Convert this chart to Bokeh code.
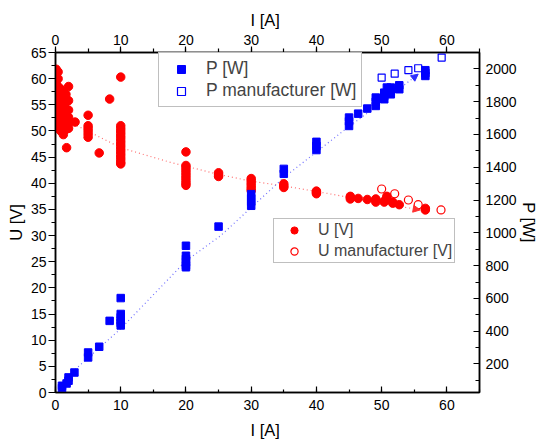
from bokeh.plotting import figure
from bokeh.models import (LinearAxis, Range1d, SingleIntervalTicker, Legend,
                          LegendItem, Arrow, NormalHead)
from bokeh.embed import file_html
from bokeh.resources import INLINE

# ---------------- data ----------------
# Measured voltage U [V] vs current I [A]
u_cur = [0.1, 0.1, 0.1, 0.1, 0.1, 0.1, 0.1, 0.1, 0.1, 0.1, 0.1, 0.1,
         0.4, 0.4, 0.4, 0.4, 0.4, 0.4, 0.4, 0.4, 0.4, 0.4, 0.4,
         0.8, 0.8, 0.8, 0.8, 0.8, 0.8, 0.8, 0.8, 0.8,
         1.2, 1.2, 1.2, 1.2, 1.2, 1.2, 1.2, 1.2, 1.2,
         1.6, 1.6, 1.6, 1.6, 1.6, 1.6, 1.6,
         2.0, 2.0, 2.0, 2.0, 2.0, 2.0,
         1.7, 3.0,
         5, 5, 5, 5, 5, 5, 6.7, 8.3,
         10, 10, 10, 10, 10, 10, 10, 10, 10, 10, 10, 10, 10, 10, 10, 10, 10,
         20, 20, 20, 20, 20, 20, 20, 20, 20, 20,
         25, 25, 25, 30, 30, 30, 30, 30, 30, 35, 35, 35, 40, 40, 40,
         45.2, 45.2, 45.2, 46.4, 47.8, 49.1, 49.1, 49.1, 50.4, 50.4,
         50.8, 50.8, 51.7, 51.7, 52.7, 56.7, 56.7]
u_volt = [61.8, 61, 60, 59, 58, 57, 56, 55, 54, 53, 52, 51,
          61.3, 60, 58.5, 57, 56, 55, 54, 53, 52, 51, 50.5,
          58, 57, 56, 55, 54, 53, 52, 51, 50,
          57.5, 56, 55, 54, 53, 52, 51, 50, 49.3,
          57, 55.5, 54, 53, 52, 51, 50.3,
          58.5, 55.8, 54, 52.6, 51.5, 50.5,
          46.8, 51.7,
          53, 51, 50.5, 50, 49.4, 48.8, 45.8, 56.1,
          60.3, 51, 50.5, 50, 49.5, 49, 48.5, 48, 47.5, 47, 46.5, 46, 45.5, 45, 44.5, 44, 43.7,
          46, 43.4, 43, 42.5, 42, 41.5, 41, 40.5, 40, 39.6,
          42, 41.6, 41.3, 40.9, 40.5, 40, 39.5, 39, 38.6, 39.9, 39.5, 39.2, 38.5, 38.3, 38.0,
          37.5, 37.3, 37.0, 37.1, 36.9, 37.0, 36.8, 36.4, 36.6, 36.4,
          37.5, 37.2, 36.4, 36.2, 35.9, 35.2, 34.9]

# Manufacturer voltage
um_cur = [50, 52, 54.1, 55.6, 59.1]
um_volt = [38.9, 38.0, 36.8, 35.9, 34.9]

# Measured power P [W]
p_cur = [1, 1, 1.7, 2, 2, 2.9, 5, 5, 6.7, 8.3,
         10, 10, 10, 10, 10, 10,
         20, 20, 20, 20, 20, 20,
         25, 30, 30, 30, 30, 35, 35, 40, 40, 40,
         45, 45, 45, 46.4, 47.8, 49.1, 49.1, 49.1, 50.4, 50.4, 50.4,
         50.8, 51.4, 51.4, 51.4, 52.7, 52.7, 56.7, 56.7, 56.7]
p_pow = [67, 53, 81, 118, 98, 148, 270, 240, 305, 463,
         602, 505, 485, 465, 450, 435,
         921, 860, 840, 820, 800, 790,
         1038, 1236, 1210, 1190, 1165, 1390, 1360, 1555, 1530, 1505,
         1703, 1680, 1652, 1727, 1758, 1825, 1800, 1774, 1855, 1835, 1815,
         1886, 1886, 1865, 1845, 1900, 1876, 1992, 1975, 1957]

# Manufacturer power
pm_cur = [50, 52, 54.1, 55.6, 59.2]
pm_pow = [1947, 1971, 1992, 2004, 2069]

# Fit curves
fitu_cur = [0.5, 3, 10, 17.6, 25, 30, 35, 40.6, 45, 50, 55.9]
fitu_volt = [52.6, 51.2, 46.8, 44.0, 41.7, 40.4, 39.5, 38.3, 37.3, 36.2, 34.9]
fitp_cur = [0.8, 2.8, 10, 20, 25.3, 30, 35, 40.6, 45, 50, 55.6]
fitp_pow = [50, 159, 415, 829, 982, 1154, 1337, 1512, 1649, 1794, 1968]

x_ticks_interval = 10
u_ticks_interval = 5
p_ticks_interval = 200

FONT = "Liberation Sans"
RED = "#ff0000"
BLUE = "#0000ff"

# ---------------- figure ----------------
p = figure(width=540, height=447, output_backend="svg", toolbar_location=None,
           x_range=Range1d(0, 65), y_range=Range1d(0, 65),
           min_border_left=55, min_border_right=60, min_border_top=52,
           min_border_bottom=55, background_fill_color="white",
           border_fill_color="white")
p.extra_y_ranges = {"P": Range1d(26, 2100)}
p.xgrid.visible = False
p.ygrid.visible = False
p.outline_line_color = "black"
p.outline_line_width = 1.5


def style_axis(ax, tin, tout, min_in, min_out):
    ax.axis_line_width = 1.5
    ax.axis_line_color = "black"
    ax.major_tick_line_width = 1.2
    ax.minor_tick_line_width = 1.2
    ax.major_tick_in = tin
    ax.major_tick_out = tout
    ax.minor_tick_in = min_in
    ax.minor_tick_out = min_out
    ax.major_label_text_font = FONT
    ax.major_label_text_font_size = "14px"
    ax.major_label_text_color = "black"
    ax.axis_label_text_font = FONT
    ax.axis_label_text_font_size = "16.5px"
    ax.axis_label_text_font_style = "normal"
    ax.axis_label_text_color = "black"


# bottom x axis
xb = p.xaxis[0]
xb.ticker = SingleIntervalTicker(interval=x_ticks_interval, num_minor_ticks=2)
xb.axis_label = "I  [A]"
style_axis(xb, 6, 0, 3, 0)
xb.major_label_standoff = 7
xb.axis_label_standoff = 8

# left y axis
yl = p.yaxis[0]
yl.ticker = SingleIntervalTicker(interval=u_ticks_interval, num_minor_ticks=2)
yl.axis_label = "U [V]"
style_axis(yl, 0, 7, 0, 4)
yl.major_label_standoff = 2
yl.axis_label_standoff = 3

# top x axis
xt = LinearAxis(ticker=SingleIntervalTicker(interval=x_ticks_interval, num_minor_ticks=2),
                axis_label="I  [A]")
style_axis(xt, 0, 6, 0, 4)
xt.major_label_standoff = 2
xt.axis_label_standoff = 3
p.add_layout(xt, "above")

# right y axis (power)
yr = LinearAxis(y_range_name="P",
                ticker=SingleIntervalTicker(interval=p_ticks_interval, num_minor_ticks=2),
                axis_label="P [W]")
style_axis(yr, 6, 0, 4, 0)
yr.major_label_standoff = 6
yr.axis_label_standoff = 0
p.add_layout(yr, "right")

# ---------------- glyphs ----------------
p.line(fitu_cur, fitu_volt, line_color="#ff7070", line_dash="1 3", line_width=1.2)
p.line(fitp_cur, fitp_pow, line_color="#7070ff", line_dash="1 3", line_width=1.2,
       y_range_name="P")

p.add_layout(Arrow(end=NormalHead(size=7, fill_color="#ff3030", line_color="#ff3030"),
                   x_start=fitu_cur[-2], y_start=fitu_volt[-2],
                   x_end=fitu_cur[-1], y_end=fitu_volt[-1], line_alpha=0))
p.add_layout(Arrow(end=NormalHead(size=7, fill_color="#3030ff", line_color="#3030ff"),
                   x_start=fitp_cur[-2], y_start=fitp_pow[-2],
                   x_end=fitp_cur[-1], y_end=fitp_pow[-1], line_alpha=0,
                   y_range_name="P"))

r_u = p.scatter(u_cur, u_volt, marker="circle", size=8.5, fill_color=RED, line_color=RED)
r_um = p.scatter(um_cur, um_volt, marker="circle", size=8, fill_color=None,
                 line_color=RED, line_width=1.2)
r_p = p.scatter(p_cur, p_pow, marker="square", size=7.5, fill_color=BLUE, line_color=BLUE,
                y_range_name="P")
r_pm = p.scatter(pm_cur, pm_pow, marker="square", size=7, fill_color=None,
                 line_color=BLUE, line_width=1.2, y_range_name="P")

# ---------------- legends ----------------
leg1 = Legend(items=[LegendItem(label="P [W]", renderers=[r_p]),
                     LegendItem(label="P manufacturer [W]", renderers=[r_pm])],
              location=(103, 285), orientation="vertical",
              label_text_font=FONT, label_text_font_size="17.5px",
              label_height=20, glyph_height=20, glyph_width=34,
              label_standoff=8, spacing=1, padding=5, margin=0,
              border_line_color="#808080", border_line_width=1,
              background_fill_color="white", background_fill_alpha=1)
leg2 = Legend(items=[LegendItem(label="U [V]", renderers=[r_u]),
                     LegendItem(label="U manufacturer [V]", renderers=[r_um])],
              location=(218, 129), orientation="vertical",
              label_text_font=FONT, label_text_font_size="16px",
              label_height=18, glyph_height=18, glyph_width=36,
              label_standoff=6, spacing=3, padding=2, margin=0,
              border_line_color="#808080", border_line_width=1,
              background_fill_color="white", background_fill_alpha=1)
p.add_layout(leg1)
p.add_layout(leg2)

open("out.html", "w").write(file_html(p, INLINE))
